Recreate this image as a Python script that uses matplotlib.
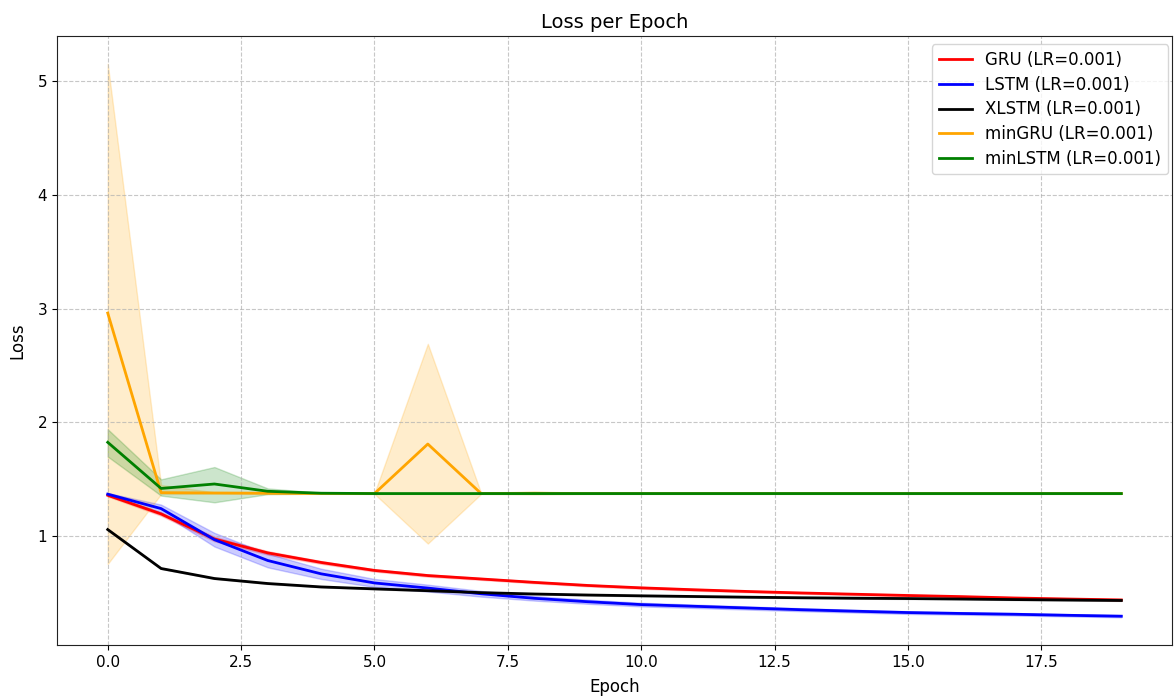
import numpy as np
import matplotlib
matplotlib.use("Agg")
import matplotlib.pyplot as plt

epochs = np.arange(20)

# mean loss and band (min/max over runs) for each model
gru_mean = [1.36, 1.196, 0.976, 0.854, 0.77, 0.70, 0.655, 0.625, 0.595, 0.568,
            0.547, 0.530, 0.515, 0.502, 0.491, 0.480, 0.470, 0.458, 0.449, 0.441]
gru_spread = [0.01, 0.015, 0.02, 0.015, 0.012, 0.01, 0.01, 0.008, 0.008, 0.008,
              0.008, 0.008, 0.007, 0.007, 0.007, 0.007, 0.006, 0.006, 0.006, 0.006]

lstm_mean = [1.37, 1.243, 0.97, 0.787, 0.67, 0.59, 0.545, 0.495, 0.455, 0.425,
             0.40, 0.385, 0.37, 0.355, 0.342, 0.330, 0.322, 0.315, 0.306, 0.298]
lstm_spread = [0.01, 0.035, 0.06, 0.06, 0.045, 0.035, 0.03, 0.025, 0.02, 0.018,
               0.016, 0.015, 0.014, 0.013, 0.012, 0.012, 0.011, 0.011, 0.01, 0.01]

xlstm_mean = [1.059, 0.717, 0.629, 0.585, 0.555, 0.538, 0.522, 0.505, 0.493, 0.484,
              0.477, 0.471, 0.465, 0.460, 0.456, 0.453, 0.449, 0.444, 0.440, 0.436]
xlstm_spread = [0.004] * 20

mingru_mean = [2.96, 1.383, 1.38, 1.378, 1.376, 1.375, 1.81, 1.375, 1.378, 1.375,
               1.375, 1.375, 1.375, 1.375, 1.375, 1.375, 1.375, 1.375, 1.375, 1.375]
mingru_low = [0.757, 1.37, 1.375, 1.372, 1.372, 1.372, 0.936, 1.372, 1.368, 1.372,
              1.372, 1.372, 1.372, 1.372, 1.372, 1.372, 1.372, 1.372, 1.372, 1.372]
mingru_high = [5.15, 1.45, 1.386, 1.384, 1.38, 1.378, 2.69, 1.378, 1.39, 1.378,
               1.378, 1.378, 1.378, 1.378, 1.378, 1.378, 1.378, 1.378, 1.378, 1.378]

minlstm_mean = [1.825, 1.42, 1.459, 1.395, 1.378, 1.375, 1.375, 1.375, 1.375, 1.375,
                1.375, 1.375, 1.375, 1.375, 1.375, 1.375, 1.375, 1.375, 1.375, 1.375]
minlstm_low = [1.70, 1.357, 1.298, 1.37, 1.374, 1.372, 1.372, 1.372, 1.372, 1.372,
               1.372, 1.372, 1.372, 1.372, 1.372, 1.372, 1.372, 1.372, 1.372, 1.372]
minlstm_high = [1.94, 1.50, 1.608, 1.42, 1.382, 1.378, 1.378, 1.378, 1.378, 1.378,
                1.378, 1.378, 1.378, 1.378, 1.378, 1.378, 1.378, 1.378, 1.378, 1.378]


def band(mean, spread):
    mean = np.array(mean)
    spread = np.array(spread)
    return mean - spread, mean + spread


fig = plt.figure(figsize=(11.74, 6.98), dpi=100)
ax = fig.add_axes([0.0486, 0.0759, 0.9497, 0.8725])

series = [
    ("GRU (LR=0.001)", "red", gru_mean, *band(gru_mean, gru_spread)),
    ("LSTM (LR=0.001)", "blue", lstm_mean, *band(lstm_mean, lstm_spread)),
    ("XLSTM (LR=0.001)", "black", xlstm_mean, *band(xlstm_mean, xlstm_spread)),
    ("minGRU (LR=0.001)", "orange", mingru_mean, mingru_low, mingru_high),
    ("minLSTM (LR=0.001)", "green", minlstm_mean, minlstm_low, minlstm_high),
]

for label, color, mean, low, high in series:
    ax.plot(epochs, mean, color=color, linewidth=2, label=label)
    ax.fill_between(epochs, low, high, color=color, alpha=0.2)

ax.set_title("Loss per Epoch", fontsize=14)
ax.set_xlabel("Epoch", fontsize=12, labelpad=6)
ax.set_ylabel("Loss", fontsize=12, labelpad=8)
ax.tick_params(labelsize=11)
for spine in ax.spines.values():
    spine.set_color("#222222")
ax.grid(True, linestyle="--", alpha=0.7)
ax.legend(loc="upper right", fontsize=12, labelspacing=0.4,
          bbox_to_anchor=(1.004, 1.0))

fig.savefig("out.png", dpi=100)
